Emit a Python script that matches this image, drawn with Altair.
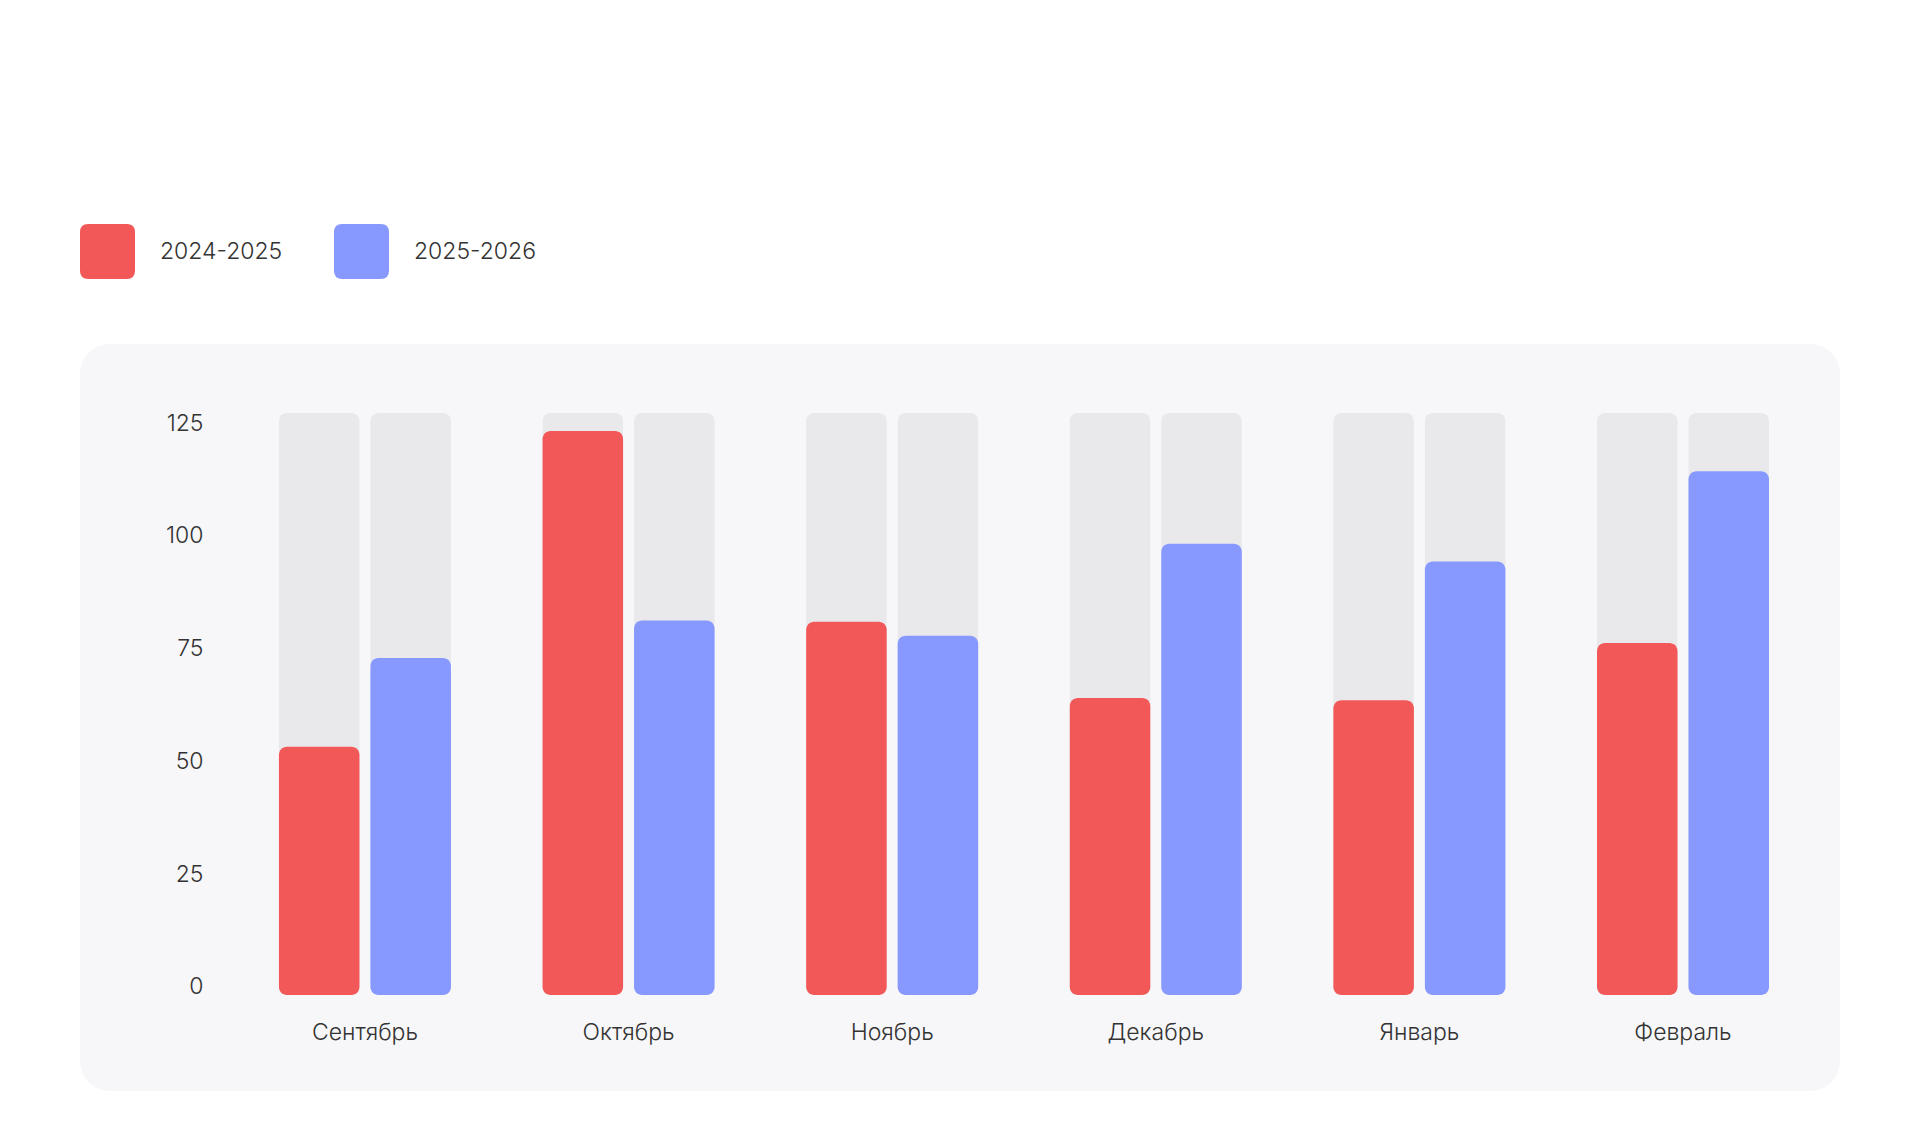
import altair as alt
import pandas as pd

# ---- data ----
months = ["Сентябрь", "Октябрь", "Ноябрь", "Декабрь", "Январь", "Февраль"]
series = ["2024-2025", "2025-2026"]
values_2024_2025 = [55, 125, 82.7, 65.8, 65.3, 78]
values_2025_2026 = [74.7, 83, 79.6, 100, 96.1, 116.1]
track_max = 129
y_ticks = [0, 25, 50, 75, 100, 125]

rows = []
for i, m in enumerate(months):
    rows.append({"month": m, "series": series[0], "value": values_2024_2025[i], "track": track_max})
    rows.append({"month": m, "series": series[1], "value": values_2025_2026[i], "track": track_max})
df = pd.DataFrame(rows)

FONT = "Inter"
FS = 23
FW = 300
TEXT = "#333333"
RED = "#F25858"
BLUE = "#8798FF"
TRACK = "#E9E9EC"
PANEL = "#F7F7F9"

ROUNDED_SQUARE = ("M-0.7,-1H0.7Q1,-1 1,-0.7V0.7Q1,1 0.7,1H-0.7Q-1,1 -1,0.7"
                  "V-0.7Q-1,-1 -0.7,-1Z")

x_enc = alt.X(
    "month:N", sort=months, title=None,
    scale=alt.Scale(paddingInner=0.3475, paddingOuter=0.512, align=0.737),
    axis=alt.Axis(orient="bottom", offset=-59, labelAngle=0, domain=False,
                  ticks=False, tickSize=0, labelPadding=0, labelBaseline="middle",
                  labelFont=FONT, labelFontSize=FS, labelFontWeight=FW,
                  labelColor=TEXT, grid=False),
)
xo_enc = alt.XOffset("series:N", sort=series,
                     scale=alt.Scale(paddingInner=0.12, paddingOuter=0))
y_scale = alt.Scale(domain=[-21.3, 144.3], nice=False, zero=False)
y_axis = alt.Axis(orient="left", offset=-123, values=y_ticks, domain=False,
                  ticks=False, tickSize=0, labelPadding=0, grid=False,
                  labelBaseline="middle", labelOffset=-8, labelAlign="right",
                  labelFont=FONT, labelFontSize=FS, labelFontWeight=FW,
                  labelColor=TEXT)

base = alt.Chart(df)

track = base.mark_bar(cornerRadius=8, color=TRACK).encode(
    x=x_enc,
    xOffset=xo_enc,
    y=alt.Y("track:Q", scale=y_scale, axis=y_axis, title=None),
    y2=alt.datum(0),
)

bars = base.mark_bar(cornerRadius=8).encode(
    x=x_enc,
    xOffset=xo_enc,
    y=alt.Y("value:Q", scale=y_scale, axis=y_axis, title=None),
    y2=alt.datum(0),
    color=alt.Color(
        "series:N", sort=series, title=None,
        scale=alt.Scale(domain=series, range=[RED, BLUE]),
        legend=alt.Legend(
            orient="none", legendX=0, legendY=-120, direction="horizontal",
            symbolType=ROUNDED_SQUARE, symbolSize=3025, symbolStrokeWidth=0,
            symbolOpacity=1, labelFont=FONT, labelFontSize=FS,
            labelFontWeight=FW, labelColor=TEXT,
            labelOffset=25, columnPadding=51, padding=0,
        ),
    ),
)

chart = (
    alt.layer(track, bars)
    .properties(
        width=1760, height=747,
        autosize=alt.AutoSizeParams(type="none"),
        padding={"left": 72, "top": 336, "right": 72, "bottom": 36},
        background="#FFFFFF",
    )
    .configure_view(fill=PANEL, cornerRadius=30, strokeWidth=0)
)

chart.save("out.html", embed_options={"renderer": "svg", "actions": False})
